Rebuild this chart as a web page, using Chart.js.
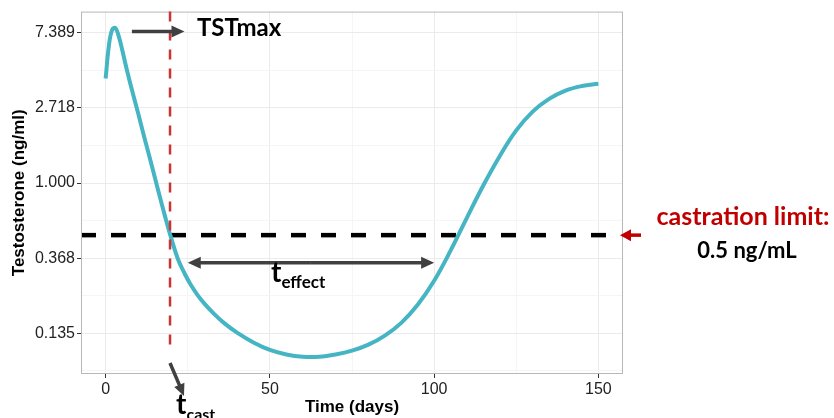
<!DOCTYPE html>
<html>
<head>
<meta charset="utf-8">
<script src="https://cdn.jsdelivr.net/npm/chart.js@4"></script>
<style>
  html, body { margin: 0; padding: 0; background: #fff; }
  #wrap { width: 834px; height: 418px; position: relative; }
</style>
</head>
<body>
<div id="wrap"><canvas id="tstChart" width="834" height="418"></canvas></div>
<script>
// days and ln(testosterone, ng/ml)
const days = [0, 1, 2, 3, 4, 5, 6, 7, 8, 10, 12, 14, 16, 18, 20, 22, 24, 26, 28, 30, 33, 36, 40, 45, 50, 55, 60, 65, 70, 75, 80, 85, 90, 95, 100, 105, 110, 115, 120, 125, 130, 135, 140, 145, 150];
const logTst = [1.39, 1.83, 2.04, 2.06, 1.95, 1.78, 1.59, 1.41, 1.24, 0.91, 0.57, 0.24, -0.10, -0.43, -0.74, -1.01, -1.20, -1.36, -1.49, -1.60, -1.74, -1.86, -1.99, -2.12, -2.22, -2.28, -2.31, -2.31, -2.28, -2.23, -2.15, -2.03, -1.86, -1.62, -1.30, -0.90, -0.46, -0.03, 0.36, 0.70, 0.95, 1.12, 1.23, 1.29, 1.32];
const testosterone = logTst.map(v => Math.exp(v));

const xTicks = [0, 25, 50, 75, 100, 125, 150];
const xLabels = ['0', '', '50', '', '100', '', '150'];
const yTickPowers = [-2.5, -2, -1.5, -1, -0.5, 0, 0.5, 1, 1.5, 2];
const yLabels = ['', '0.135', '', '0.368', '', '1.000', '', '2.718', '', '7.389'];

const castLimit = 0.5;
const tCast = 19.6;
const tstMaxArrow = [8, 24, 7.5];      // from day, to day, level
const effectArrow = [25, 100, 0.346];  // from day, to day, level

const labelFont = '"Liberation Sans", Arial, sans-serif';
const noteFont = 'Lato, "Open Sans", sans-serif';

function arrowHead(ctx, x1, y1, x2, y2, len, wid, color) {
  const a = Math.atan2(y2 - y1, x2 - x1);
  ctx.save();
  ctx.fillStyle = color;
  ctx.translate(x2, y2);
  ctx.rotate(a);
  ctx.beginPath();
  ctx.moveTo(0, 0);
  ctx.lineTo(-len, -wid / 2);
  ctx.lineTo(-len, wid / 2);
  ctx.closePath();
  ctx.fill();
  ctx.restore();
}

function arrow(ctx, x1, y1, x2, y2, color, lw, len, wid) {
  const a = Math.atan2(y2 - y1, x2 - x1);
  ctx.save();
  ctx.strokeStyle = color;
  ctx.lineWidth = lw;
  ctx.beginPath();
  ctx.moveTo(x1, y1);
  ctx.lineTo(x2 - Math.cos(a) * len * 0.8, y2 - Math.sin(a) * len * 0.8);
  ctx.stroke();
  ctx.restore();
  arrowHead(ctx, x1, y1, x2, y2, len, wid, color);
}

function subText(ctx, main, sub, x, y, big, small) {
  ctx.font = 'bold ' + big + 'px ' + noteFont;
  ctx.fillText(main, x, y);
  const w = ctx.measureText(main).width;
  ctx.font = 'bold ' + small + 'px ' + noteFont;
  ctx.fillText(sub, x + w, y + small * 0.35);
}

const frame = {
  id: 'frame',
  beforeDatasetsDraw(chart) {
    const { ctx, chartArea: a, scales: { x, y } } = chart;
    // castration limit line
    ctx.save();
    ctx.strokeStyle = '#000';
    ctx.lineWidth = 4.5;
    ctx.setLineDash([15, 15]);
    const yl = y.getPixelForValue(castLimit);
    ctx.beginPath();
    ctx.moveTo(a.left, yl);
    ctx.lineTo(a.right - 4, yl);
    ctx.stroke();
    ctx.restore();
  },
  afterDraw(chart) {
    const { ctx, chartArea: a, scales: { x, y } } = chart;
    ctx.save();
    ctx.strokeStyle = '#b8b8b8';
    ctx.lineWidth = 1;
    ctx.strokeRect(a.left + 0.5, a.top + 0.5, a.right - a.left - 1, a.bottom - a.top - 1);

    // tcast vertical line
    const xc = x.getPixelForValue(tCast);
    ctx.strokeStyle = '#cc3333';
    ctx.lineWidth = 2.5;
    ctx.setLineDash([10, 9]);
    ctx.beginPath();
    ctx.moveTo(xc, a.top);
    ctx.lineTo(xc, a.bottom - 23);
    ctx.stroke();
    ctx.setLineDash([]);
    arrow(ctx, xc, a.bottom - 11, xc + 14, a.bottom + 22, '#404040', 3.5, 12, 11);

    // TSTmax arrow
    const ty = y.getPixelForValue(tstMaxArrow[2]);
    arrow(ctx, x.getPixelForValue(tstMaxArrow[0]), ty, x.getPixelForValue(tstMaxArrow[1]), ty, '#404040', 3.5, 13, 12);

    // teffect double arrow
    const ey = y.getPixelForValue(effectArrow[2]);
    const ex1 = x.getPixelForValue(effectArrow[0]);
    const ex2 = x.getPixelForValue(effectArrow[1]);
    arrow(ctx, (ex1 + ex2) / 2, ey, ex1, ey, '#404040', 3.5, 13, 12);
    arrow(ctx, (ex1 + ex2) / 2, ey, ex2, ey, '#404040', 3.5, 13, 12);

    // castration arrow (red)
    const yl = y.getPixelForValue(castLimit);
    arrow(ctx, a.right + 18, yl, a.right - 3, yl, '#c00000', 3.5, 11, 12);

    // texts
    ctx.fillStyle = '#000';
    ctx.textBaseline = 'alphabetic';
    ctx.textAlign = 'left';
    ctx.font = 'bold 24px ' + noteFont;
    ctx.fillText('TSTmax', 197, 36);
    subText(ctx, 't', 'effect', 271, 282, 28, 17);
    subText(ctx, 't', 'cast', 176, 414, 28, 16);

    ctx.textAlign = 'center';
    ctx.fillStyle = '#c00000';
    ctx.font = 'bold 25px ' + noteFont;
    ctx.fillText('castration limit:', 743, 225);
    ctx.fillStyle = '#000';
    ctx.font = 'bold 22px ' + noteFont;
    ctx.fillText('0.5 ng/mL', 747, 258);

    // axis titles
    ctx.font = 'bold 17px ' + labelFont;
    ctx.fillText('Time (days)', (a.left + a.right) / 2, 412);
    ctx.translate(19, (a.top + a.bottom) / 2);
    ctx.rotate(-Math.PI / 2);
    ctx.textBaseline = 'middle';
    ctx.fillText('Testosterone (ng/ml)', 0, 0);
    ctx.restore();
  }
};

const isMajorX = v => v % 50 === 0;
const isMajorY = v => Math.abs(Math.log(v) - Math.round(Math.log(v))) < 1e-6;

new Chart(document.getElementById('tstChart'), {
  type: 'line',
  data: {
    datasets: [{
      data: days.map((d, i) => ({ x: d, y: testosterone[i] })),
      borderColor: '#45b5c4',
      borderWidth: 4,
      pointRadius: 0,
      tension: 0.4,
      fill: false
    }]
  },
  options: {
    responsive: false,
    animation: false,
    layout: { padding: { left: 0, top: 10, right: 211, bottom: 0 } },
    plugins: { legend: { display: false }, tooltip: { enabled: false } },
    scales: {
      x: {
        type: 'linear',
        min: -7.5,
        max: 157.5,
        afterBuildTicks: s => { s.ticks = xTicks.map(v => ({ value: v })); },
        afterFit: s => { s.height = 44; },
        border: { display: false },
        grid: {
          color: c => isMajorX(c.tick.value) ? '#ebebeb' : '#f5f5f5',
          tickColor: c => isMajorX(c.tick.value) ? '#333' : 'rgba(0,0,0,0)',
          tickLength: 4,
          lineWidth: 1
        },
        ticks: {
          autoSkip: false,
          maxRotation: 0,
          padding: 2,
          color: '#222',
          font: { family: labelFont, size: 16 },
          callback: (v, i) => xLabels[xTicks.indexOf(v)]
        }
      },
      y: {
        type: 'logarithmic',
        min: Math.exp(-2.54),
        max: Math.exp(2.28),
        afterBuildTicks: s => { s.ticks = yTickPowers.map(p => ({ value: Math.exp(p) })); },
        afterFit: s => { s.width = 81; },
        border: { display: false },
        grid: {
          color: c => isMajorY(c.tick.value) ? '#ebebeb' : '#f5f5f5',
          tickColor: c => isMajorY(c.tick.value) ? '#333' : 'rgba(0,0,0,0)',
          tickLength: 4,
          lineWidth: 1
        },
        ticks: {
          autoSkip: false,
          padding: 2,
          color: '#222',
          font: { family: labelFont, size: 16 },
          callback: (v, i) => yLabels[i]
        }
      }
    }
  },
  plugins: [frame]
});
</script>
</body>
</html>
